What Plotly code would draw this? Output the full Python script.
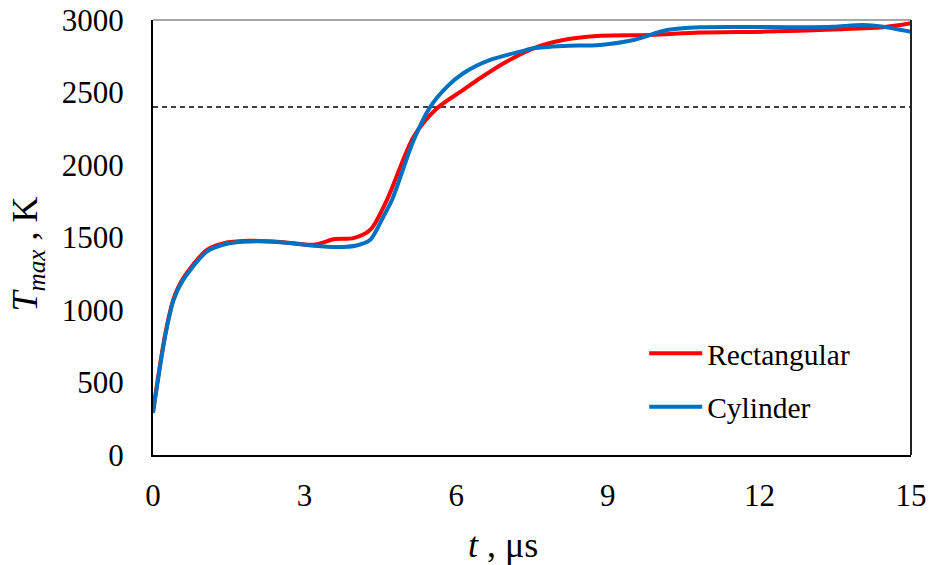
import plotly.graph_objects as go

# Rectangular series
t_rect = [0, 0.24, 0.41, 0.6, 1.07, 1.46, 1.92, 2.58, 3.18, 3.6, 3.97, 4.3, 4.63,
          5.16, 5.62, 6.14, 6.47, 6.94, 7.53, 8.12, 8.78, 9.84, 10.83, 12.15,
          13.46, 14.45, 15]
T_rect = [300, 830, 1080, 1220, 1415, 1465, 1478, 1468, 1450, 1489, 1496, 1553, 1760,
          2196, 2391, 2518, 2598, 2702, 2805, 2862, 2890, 2897, 2913, 2920,
          2935, 2950, 2977]

# Cylinder series
t_cyl = [0, 0.24, 0.41, 0.6, 1.07, 1.46, 1.92, 2.58, 3.18, 3.64, 4.03, 4.3, 4.56,
         4.73, 5.16, 5.49, 5.82, 6.14, 6.67, 7.27, 7.53, 8.12, 8.85, 9.51, 10.17,
         10.83, 12.8, 13.46, 14.05, 14.45, 15]
T_cyl = [290, 818, 1071, 1209, 1404, 1457, 1473, 1466, 1443, 1434, 1445, 1484, 1645,
         1760, 2173, 2403, 2541, 2633, 2725, 2782, 2805, 2821, 2828, 2862, 2931,
         2950, 2950, 2954, 2965, 2954, 2919]

# Reference threshold
t_ref = [0, 15]
T_ref = [2400, 2400]

x_ticks = [0, 3, 6, 9, 12, 15]
y_ticks = [0, 500, 1000, 1500, 2000, 2500, 3000]

FONT = "Liberation Serif"

fig = go.Figure()
fig.add_trace(go.Scatter(x=t_ref, y=T_ref, mode="lines", showlegend=False,
                         line=dict(color="black", width=1.3, dash="5px,4px")))
fig.add_trace(go.Scatter(x=t_rect, y=T_rect, mode="lines", name="Rectangular",
                         legendgroup="a",
                         line=dict(color="#FF0000", width=4, shape="spline", smoothing=0.8)))
fig.add_trace(go.Scatter(x=t_cyl, y=T_cyl, mode="lines", name="Cylinder",
                         legendgroup="b",
                         line=dict(color="#0070C0", width=4, shape="spline", smoothing=0.8)))

fig.update_layout(
    width=931, height=565,
    margin=dict(l=153, r=20, t=20, b=110, autoexpand=False),
    paper_bgcolor="white", plot_bgcolor="white",
    font=dict(family=FONT, size=30, color="black"),
    legend=dict(x=0.648, y=0.172, xanchor="left", yanchor="middle",
                bgcolor="rgba(0,0,0,0)", traceorder="grouped", tracegroupgap=12,
                itemwidth=53,
                font=dict(family=FONT, size=29.5)),
    showlegend=True,
)
fig.update_xaxes(range=[0, 15], tickvals=x_ticks, showgrid=False, zeroline=False,
                 showline=True, linecolor="black", linewidth=2, automargin=False,
                 ticks="outside", ticklen=0, ticklabelstandoff=12,
                 tickfont=dict(family=FONT, size=31))
fig.update_yaxes(range=[0, 3000], tickvals=y_ticks, showgrid=False, zeroline=False,
                 showline=True, linecolor="black", linewidth=2, automargin=False,
                 ticks="outside", ticklen=0, ticklabelstandoff=21,
                 tickfont=dict(family=FONT, size=31))

# top and right frame lines
fig.add_shape(type="line", xref="paper", yref="paper", x0=0, x1=1, y0=1, y1=1,
              line=dict(color="#888888", width=1.5))
fig.add_shape(type="line", xref="paper", yref="paper", x0=1, x1=1, y0=0, y1=1,
              line=dict(color="#222222", width=2))

fig.add_annotation(xref="paper", yref="paper", x=-0.165, y=0.463,
                   xanchor="center", yanchor="middle",
                   text="<i>T</i><sub><i>max</i></sub> , K", showarrow=False,
                   textangle=-90, font=dict(family=FONT, size=36))
fig.add_annotation(xref="paper", yref="paper", x=0.462, y=-0.207,
                   xanchor="center", yanchor="middle",
                   text="<i>t</i> , μs", showarrow=False,
                   font=dict(family=FONT, size=36))

fig.write_html("out.html", config={"displayModeBar": False},
               post_script="document.body.style.margin='0';document.body.style.overflow='hidden';")
